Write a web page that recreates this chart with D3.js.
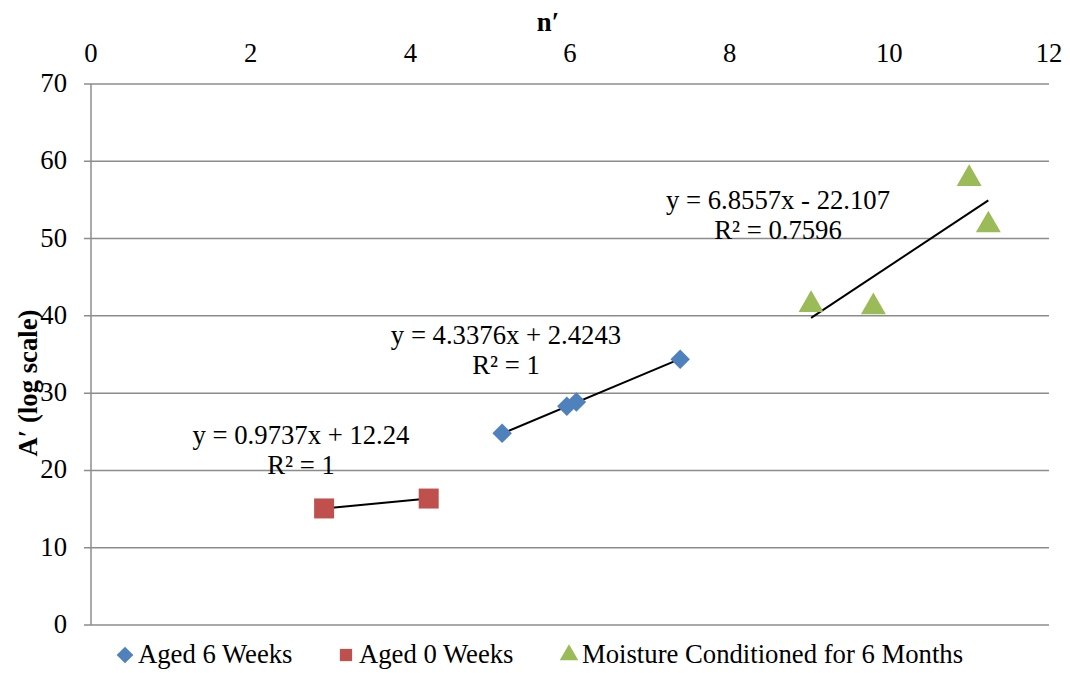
<!DOCTYPE html>
<html>
<head>
<meta charset="utf-8">
<script src="https://cdn.jsdelivr.net/npm/d3@7"></script>
</head>
<body style="margin:0; background:#fff">
<svg id="chart" width="1070" height="673" style="display:block"></svg>
<script>
// Series: n' against A' for three conditioning states
const aged6X = [5.15, 5.96, 6.08, 7.38];
const aged6Y = [24.8, 28.3, 28.85, 34.4];
const aged0X = [2.92, 4.23];
const aged0Y = [15.08, 16.36];
const moistX = [9.02, 9.80, 11.0, 11.24];
const moistY = [41.7, 41.4, 58.0, 52.0];

// Linear trendlines as fitted (slope, intercept, R²)
const trendSlope = [4.3376, 0.9737, 6.8557];
const trendIntercept = [2.4243, 12.24, -22.107];
const trendR2 = ["1", "1", "0.7596"];

const seriesNames = ["Aged 6 Weeks", "Aged 0 Weeks", "Moisture Conditioned for 6 Months"];
const xTicks = [0, 2, 4, 6, 8, 10, 12];
const yTicks = [0, 10, 20, 30, 40, 50, 60, 70];

const colors = ["#4F81BD", "#C0504D", "#9BBB59"];
const FONT = '"Liberation Serif"';

// square diamond (a square turned 45°)
const squareDiamond = {
  draw(context, size) {
    const r = Math.sqrt(size / 2);
    context.moveTo(0, -r);
    context.lineTo(r, 0);
    context.lineTo(0, r);
    context.lineTo(-r, 0);
    context.closePath();
  }
};
const symbols = [squareDiamond, d3.symbolSquare, d3.symbolTriangle];

const series = [
  { xs: aged6X, ys: aged6Y },
  { xs: aged0X, ys: aged0Y },
  { xs: moistX, ys: moistY }
];

const svg = d3.select("#chart");
const plotLeft = 91, plotRight = 1049, plotTop = 84, plotBottom = 625;
const x = d3.scaleLinear().domain([0, 12]).range([plotLeft, plotRight]);
const y = d3.scaleLinear().domain([0, 70]).range([plotBottom, plotTop]);
const fontSize = 26.7;

function label(sel) {
  return sel.style("font-family", FONT).attr("font-size", fontSize).attr("fill", "#000");
}

// horizontal gridlines with left tick stubs
svg.append("g").selectAll("line").data(yTicks).join("line")
  .attr("x1", plotLeft - 7).attr("x2", plotRight)
  .attr("y1", d => y(d)).attr("y2", d => y(d))
  .attr("stroke", "#8c8c8c").attr("stroke-width", 1.5);

// left axis line
svg.append("line")
  .attr("x1", plotLeft).attr("x2", plotLeft).attr("y1", plotTop).attr("y2", plotBottom)
  .attr("stroke", "#8c8c8c").attr("stroke-width", 1.5);

// y tick labels
svg.append("g").selectAll("text").data(yTicks).join("text")
  .call(label)
  .attr("x", plotLeft - 24).attr("y", d => y(d) + 8)
  .attr("text-anchor", "end")
  .text(d => d);

// x tick labels across the top
svg.append("g").selectAll("text").data(xTicks).join("text")
  .call(label)
  .attr("x", d => x(d)).attr("y", 62)
  .attr("text-anchor", "middle")
  .text(d => d);

// axis titles
svg.append("text").call(label)
  .attr("x", x(6) - 22).attr("y", 31)
  .attr("text-anchor", "middle").attr("font-weight", "bold")
  .text("n\u2032");
svg.append("text").call(label)
  .attr("transform", "translate(37, 383) rotate(-90)")
  .attr("text-anchor", "middle").attr("font-weight", "bold")
  .text("A\u2032 (log scale)");

// trendlines spanning each series' x range
series.forEach((s, i) => {
  const [x0, x1] = d3.extent(s.xs);
  const f = v => trendSlope[i] * v + trendIntercept[i];
  svg.append("line")
    .attr("x1", x(x0)).attr("y1", y(f(x0)))
    .attr("x2", x(x1)).attr("y2", y(f(x1)))
    .attr("stroke", "#000").attr("stroke-width", 2);
});

// markers
const symbolSize = [190, 400, 270];
series.forEach((s, i) => {
  svg.append("g").selectAll("path").data(s.xs.map((v, k) => [v, s.ys[k]])).join("path")
    .attr("d", d3.symbol().type(symbols[i]).size(symbolSize[i]))
    .attr("transform", d => `translate(${x(d[0])},${y(d[1]) + (i === 2 ? 2 : 0)})`)
    .attr("fill", colors[i]);
});

// trendline equation labels
const labelPos = [[506, 344], [301, 444], [778, 209]];
series.forEach((s, i) => {
  const sign = trendIntercept[i] < 0 ? " - " : " + ";
  const eq = `y = ${trendSlope[i]}x${sign}${Math.abs(trendIntercept[i])}`;
  const p = labelPos[i];
  svg.append("text").call(label)
    .attr("x", p[0]).attr("y", p[1]).attr("text-anchor", "middle").text(eq);
  svg.append("text").call(label)
    .attr("x", p[0]).attr("y", p[1] + 30).attr("text-anchor", "middle")
    .text(`R\u00B2 = ${trendR2[i]}`);
});

// legend
const legendX = [125, 346, 569];
const legendSize = [140, 150, 150];
seriesNames.forEach((name, i) => {
  svg.append("path")
    .attr("d", d3.symbol().type(symbols[i]).size(legendSize[i]))
    .attr("transform", `translate(${legendX[i]},${655})`)
    .attr("fill", colors[i]);
  svg.append("text").call(label)
    .attr("x", legendX[i] + 13).attr("y", 663)
    .text(name);
});
</script>
</body>
</html>
